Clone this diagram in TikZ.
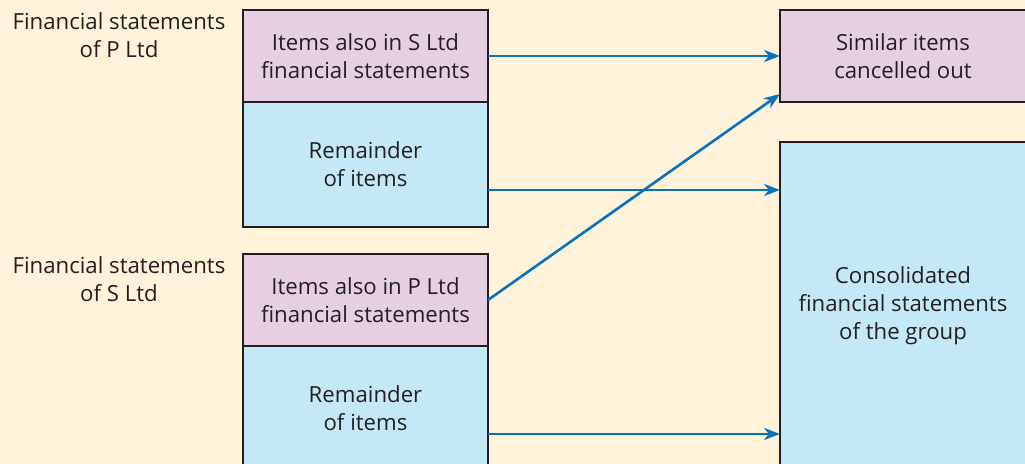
\documentclass[tikz,border=0pt]{standalone}
\usepackage{fontspec}
\setmainfont{Open Sans}
\usepackage{xcolor}
\usetikzlibrary{arrows.meta,positioning}

\definecolor{paper}{HTML}{FFF3DC}
\definecolor{pinkfill}{HTML}{E6CFE3}
\definecolor{bluefill}{HTML}{C5E8F7}
\definecolor{arrowblue}{HTML}{0A72BA}
\definecolor{edge}{HTML}{231F20}

\begin{document}
\begin{tikzpicture}[
    x=0.5pt, y=-0.5pt,
    every node/.style={font=\fontsize{11.1}{14}\selectfont, text=edge},
    common/.style={rectangle, draw=edge, line width=0.7pt, fill=pinkfill, minimum width=122.5pt, align=center, inner sep=0pt, outer sep=0pt},
    rest/.style={rectangle, draw=edge, line width=0.7pt, fill=bluefill, minimum width=122.5pt, align=center, inner sep=0pt, outer sep=0pt},
    caption/.style={align=center, inner sep=0pt},
    arrow/.style={-{Stealth[length=8pt, width=6pt, inset=2.5pt]}, line width=1.3pt, draw=arrowblue}
]

% Page
\fill[paper] (0,0) rectangle (1025,464);
\useasboundingbox (0,0) rectangle (1025,464);
\clip (0,0) rectangle (1025,464);

% Captions
\node[caption] (pcap) at (119,35) {Financial statements\\of P Ltd};
\node[caption] (scap) at (119,279) {Financial statements\\of S Ltd};

% P Ltd
\node[common, minimum height=46pt] (pcommon) at (365.5,56) {Items also in S Ltd\\financial statements};
\node[rest, below=0pt of pcommon, minimum height=62.5pt] (prest) {Remainder\\of items};

% S Ltd
\node[common, minimum height=46pt] (scommon) at (365.5,300) {Items also in P Ltd\\financial statements};
\node[rest, below=0pt of scommon, minimum height=62pt] (srest) {Remainder\\of items};

% Group
\node[common, minimum width=123pt, minimum height=46pt] (cancel) at (903,56) {Similar items\\cancelled out};
\node[rest, minimum width=123pt, minimum height=164pt] (group) at (903,306) {Consolidated\\financial statements\\of the group};

% Arrows
\draw[arrow] (pcommon.east) -- (cancel.west);
\draw[arrow] (prest.east |- 0,190) -- (group.west |- 0,190);
\draw[arrow] (scommon.east) -- (cancel.west |- 0,94);
\draw[arrow] (srest.east |- 0,434) -- (group.west |- 0,434);

\end{tikzpicture}
\end{document}
